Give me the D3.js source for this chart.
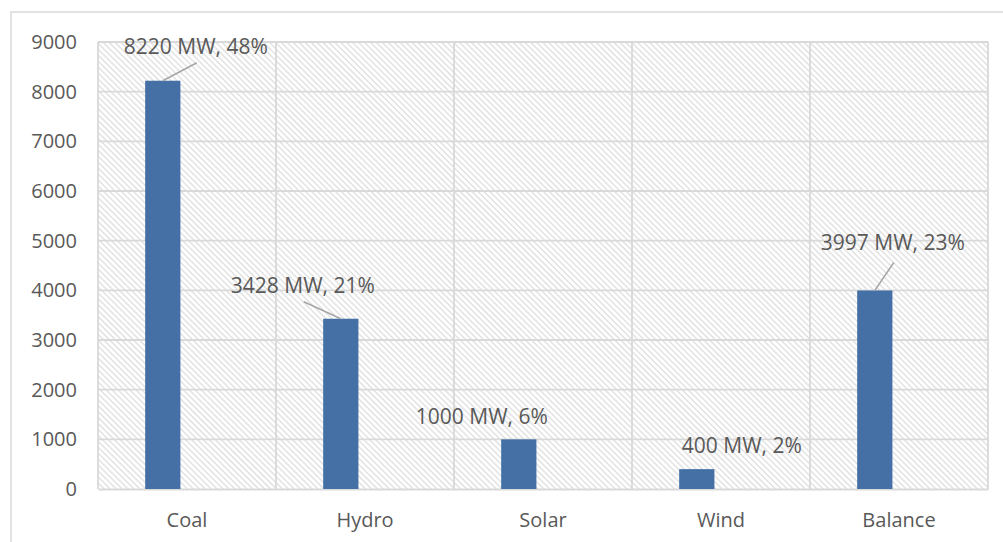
<!DOCTYPE html>
<html>
<head>
<meta charset="utf-8">
<script src="https://cdn.jsdelivr.net/npm/d3@7"></script>
<style>
  html, body { margin: 0; padding: 0; background: #ffffff; }
  svg { display: block; }
  text { font-family: "Open Sans", "Noto Sans", sans-serif; fill: #595959; }
</style>
</head>
<body>
<svg id="chart" width="1003" height="542"></svg>
<script>
// Installed capacity by source
const categories = ["Coal", "Hydro", "Solar", "Wind", "Balance"];
const capacityMW = [8220, 3428, 1000, 400, 3997];
const sharePct = [48, 21, 6, 2, 23];
const yTicks = [0, 1000, 2000, 3000, 4000, 5000, 6000, 7000, 8000, 9000];

// Label placement relative to the top centre of each bar (dx, dy of baseline; leader end)
const labelLayout = [
  { dx: 33, dy: -27, leader: [34, -18] },
  { dx: -38, dy: -26, leader: [-37, -17] },
  { dx: -37, dy: -15, leader: null },
  { dx: 45, dy: -16, leader: null },
  { dx: 18, dy: -40, leader: [19, -28] }
];

const svg = d3.select("#chart");
const W = 1003, H = 542;
const plot = { left: 98, right: 988, top: 42, bottom: 489 };

// Hatched plot-area fill
const defs = svg.append("defs");
const pat = defs.append("pattern")
  .attr("id", "hatch")
  .attr("patternUnits", "userSpaceOnUse")
  .attr("width", 4.2).attr("height", 4.2)
  .attr("patternTransform", "rotate(-45)");
pat.append("rect").attr("width", 4.2).attr("height", 4.2).attr("fill", "#ffffff");
pat.append("line")
  .attr("x1", 1).attr("y1", 0).attr("x2", 1).attr("y2", 4.2)
  .attr("stroke", "#dedede").attr("stroke-width", 1.3);

// Chart outer border
svg.append("path")
  .attr("d", `M11,${H} L11,12 L${W},12`)
  .attr("fill", "none")
  .attr("stroke", "#d9d9d9")
  .attr("stroke-width", 1.5);

const x = d3.scaleBand()
  .domain(categories)
  .range([plot.left, plot.right])
  .paddingInner(0).paddingOuter(0);

const y = d3.scaleLinear()
  .domain([0, 9000])
  .range([plot.bottom, plot.top]);

svg.append("rect")
  .attr("x", plot.left).attr("y", plot.top)
  .attr("width", plot.right - plot.left)
  .attr("height", plot.bottom - plot.top)
  .attr("fill", "url(#hatch)");

// Horizontal gridlines
svg.append("g")
  .selectAll("line")
  .data(yTicks.filter(d => d > 0))
  .join("line")
  .attr("x1", plot.left).attr("x2", plot.right)
  .attr("y1", d => y(d)).attr("y2", d => y(d))
  .attr("stroke", "#d9d9d9").attr("stroke-width", 1.8);

// Vertical gridlines at category boundaries
const bounds = categories.map(c => x(c)).concat([plot.right]);
svg.append("g")
  .selectAll("line")
  .data(bounds)
  .join("line")
  .attr("x1", d => d).attr("x2", d => d)
  .attr("y1", plot.top).attr("y2", plot.bottom)
  .attr("stroke", "#d9d9d9").attr("stroke-width", 1.8);

// Y axis labels
const yAxis = d3.axisLeft(y).tickValues(yTicks).tickFormat(d3.format("d")).tickSize(0).tickPadding(21);
const gy = svg.append("g").attr("transform", `translate(${plot.left},0)`).call(yAxis);
gy.select(".domain").remove();
gy.selectAll("text")
  .attr("font-size", 20)
  .attr("font-family", "'Open Sans', 'Noto Sans', sans-serif")
  .attr("fill", "#595959");

// X axis
const xAxis = d3.axisBottom(x).tickSize(0).tickPadding(24);
const gx = svg.append("g").attr("transform", `translate(0,${plot.bottom})`).call(xAxis);
gx.select(".domain").attr("stroke", "#d9d9d9").attr("stroke-width", 2);
gx.selectAll("text")
  .attr("font-size", 20)
  .attr("font-family", "'Open Sans', 'Noto Sans', sans-serif")
  .attr("fill", "#595959");

// Bars
const barOffset = 0.265, barWidth = 0.198;
const rows = categories.map((c, i) => ({ cat: c, mw: capacityMW[i], pct: sharePct[i], lay: labelLayout[i] }));
const bx = d => x(d.cat) + x.bandwidth() * barOffset;
const bw = x.bandwidth() * barWidth;
const bc = d => bx(d) + bw / 2;

svg.append("g")
  .selectAll("rect")
  .data(rows)
  .join("rect")
  .attr("x", bx)
  .attr("y", d => y(d.mw))
  .attr("width", bw)
  .attr("height", d => y(0) - y(d.mw))
  .attr("fill", "#4470a6");

// Leader lines
svg.append("g")
  .selectAll("line")
  .data(rows.filter(d => d.lay.leader))
  .join("line")
  .attr("x1", d => bc(d)).attr("y1", d => y(d.mw))
  .attr("x2", d => bc(d) + d.lay.leader[0]).attr("y2", d => y(d.mw) + d.lay.leader[1])
  .attr("stroke", "#a6a6a6").attr("stroke-width", 1.5);

// Data labels
svg.append("g")
  .selectAll("text")
  .data(rows)
  .join("text")
  .attr("x", d => bc(d) + d.lay.dx)
  .attr("y", d => y(d.mw) + d.lay.dy)
  .attr("text-anchor", "middle")
  .attr("font-size", 21)
  .text(d => `${d.mw} MW, ${d.pct}%`);
</script>
</body>
</html>
